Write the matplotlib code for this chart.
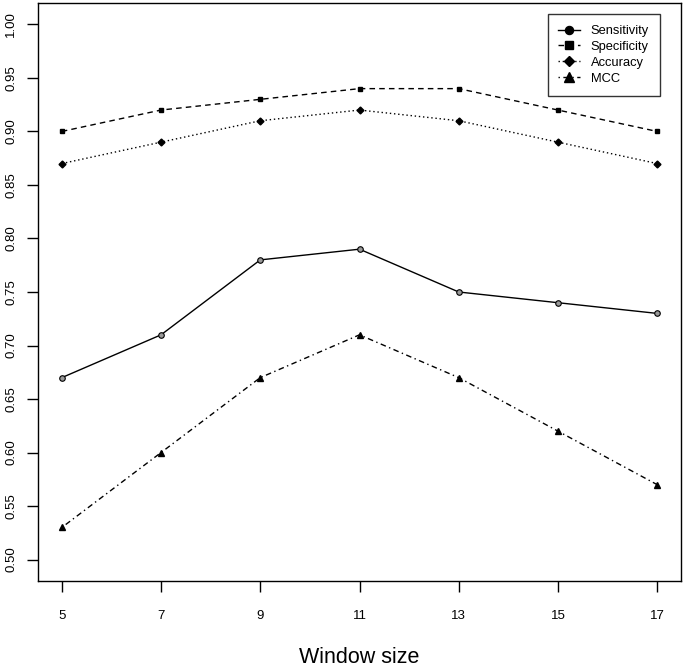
import matplotlib
matplotlib.use('Agg')
import matplotlib.pyplot as plt
from matplotlib.ticker import FixedLocator

plt.rcParams['font.family'] = ['Liberation Sans', 'DejaVu Sans']

window_size = [5, 7, 9, 11, 13, 15, 17]
sensitivity = [0.67, 0.71, 0.78, 0.79, 0.75, 0.74, 0.73]
specificity = [0.90, 0.92, 0.93, 0.94, 0.94, 0.92, 0.90]
accuracy = [0.87, 0.89, 0.91, 0.92, 0.91, 0.89, 0.87]
mcc = [0.53, 0.60, 0.67, 0.71, 0.67, 0.62, 0.57]

y_ticks = [0.50, 0.55, 0.60, 0.65, 0.70, 0.75, 0.80, 0.85, 0.90, 0.95, 1.00]

fig = plt.figure(figsize=(6.86, 6.70), dpi=100)
ax = fig.add_axes([38 / 686, 1 - 581 / 670, 643 / 686, 578 / 670])

ax.plot(window_size, sensitivity, color='black', linestyle='-', linewidth=1,
        marker='o', markersize=4, markerfacecolor='#999999', markeredgecolor='black',
        markeredgewidth=0.8, label='Sensitivity')
ax.plot(window_size, specificity, color='black', linestyle=(0, (4, 3)), linewidth=1,
        marker='s', markersize=3.5, label='Specificity')
ax.plot(window_size, accuracy, color='black', linestyle=(0, (1, 2)), linewidth=1,
        marker='D', markersize=3.5, label='Accuracy')
ax.plot(window_size, mcc, color='black', linestyle=(0, (1, 2.5, 4, 2.5)), linewidth=1,
        marker='^', markersize=4.5, label='MCC')

ax.set_xlim(4.52, 17.48)
ax.set_ylim(0.48, 1.02)
ax.xaxis.set_major_locator(FixedLocator(window_size))
ax.yaxis.set_major_locator(FixedLocator(y_ticks))
ax.set_xticklabels([str(w) for w in window_size])
ax.set_yticklabels([f'{t:.2f}' for t in y_ticks], rotation=90, va='center')
ax.tick_params(axis='both', direction='out', length=8, width=1, labelsize=9.5,
               color='black')
ax.tick_params(axis='x', pad=13)
ax.tick_params(axis='y', pad=7)
for s in ax.spines.values():
    s.set_linewidth(1)

ax.set_xlabel('Window size', fontsize=15.5, labelpad=18)

# legend box placed in figure pixels, like R's legend("topright", inset=...)
handles, labels = ax.get_legend_handles_labels()
leg = ax.legend(handles, labels, loc='upper right',
                bbox_to_anchor=(660 / 686, 1 - 14 / 670), bbox_transform=fig.transFigure,
                borderaxespad=0, fontsize=9.3, frameon=True, fancybox=False,
                edgecolor='black', handlelength=1.7, handletextpad=0.8,
                borderpad=0.85, labelspacing=0.3, markerscale=1.5)
leg.get_frame().set_linewidth(1)
for h in leg.legend_handles:
    h.set_markerfacecolor('black')

fig.savefig('out.png', dpi=100)
